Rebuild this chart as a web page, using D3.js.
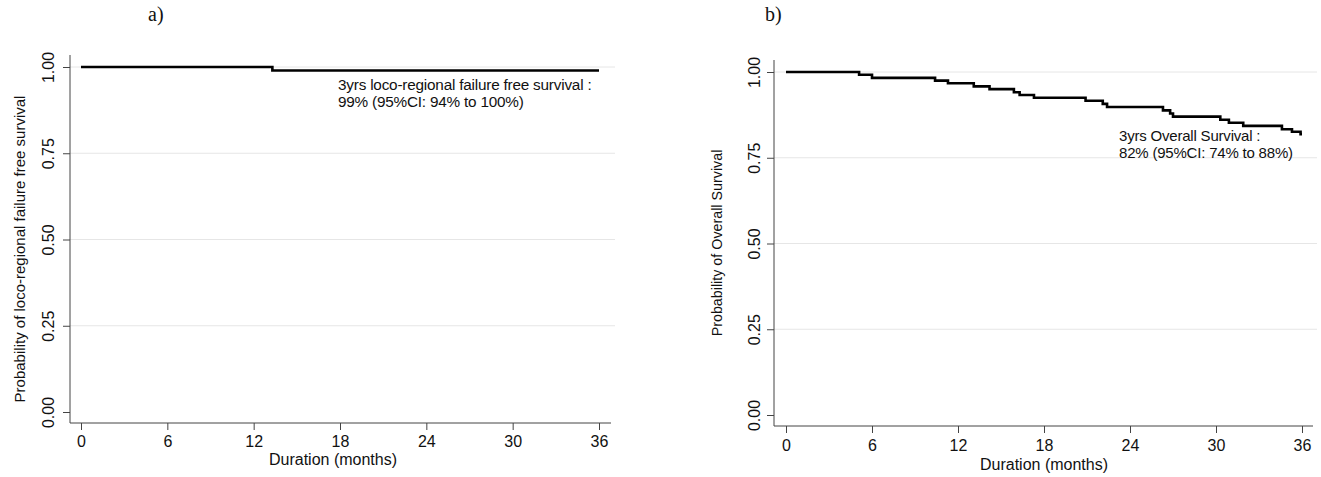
<!DOCTYPE html>
<html>
<head>
<meta charset="utf-8">
<script src="https://cdn.jsdelivr.net/npm/d3@7"></script>
<style>
  html, body { margin: 0; padding: 0; background: #fff; }
  svg { display: block; }
  text { font-family: "Liberation Sans", Arial, sans-serif; fill: #111; }
</style>
</head>
<body>
<svg id="chart" width="1321" height="477"></svg>
<script>
// ---------- data ----------
const xTicks = [0, 6, 12, 18, 24, 30, 36];
const yTicks = [0, 0.25, 0.5, 0.75, 1];
const yTickLabels = ["0.00", "0.25", "0.50", "0.75", "1.00"];
const xMax = 36;

// a) loco-regional failure free survival (Kaplan-Meier steps)
const lrTimes = [0, 13.3];
const lrSurv  = [1.000, 0.990];

// b) overall survival (Kaplan-Meier steps)
const osTimes = [0, 5.1, 6.0, 10.4, 11.3, 13.1, 14.2, 15.9, 16.3, 17.3, 20.9, 22.1, 22.4,
                 26.3, 26.8, 27.0, 30.3, 30.9, 31.9, 34.6, 35.3, 35.9];
const osSurv  = [1.000, 0.992, 0.983, 0.975, 0.967, 0.958, 0.950, 0.941, 0.933, 0.925, 0.916, 0.907, 0.898,
                 0.888, 0.879, 0.870, 0.861, 0.852, 0.843, 0.833, 0.826, 0.819];

const panels = [
  {
    tag: "a)", tagX: 148, tagY: 21,
    x0: 81, x1: 599, y0: 412, y1: 67,
    axX: 70, axTop: 55, axBottom: 423, axRight: 611,
    times: lrTimes, surv: lrSurv,
    yTitle: "Probability of loco-regional failure free survival", yTitleX: 25, yTitleY: 249, yTitleSize: 15,
    yLabX: 54, xLabY: 447, xTitleY: 465, xTitleX: 333,
    note: ["3yrs loco-regional failure free survival :", "99% (95%CI: 94% to 100%)"],
    noteX: 338, noteY: 90, noteDy: 17, noteSize: 15.3,
    fs: 16
  },
  {
    tag: "b)", tagX: 765, tagY: 21,
    x0: 786, x1: 1302, y0: 415, y1: 72,
    axX: 774, axTop: 60, axBottom: 426, axRight: 1313,
    times: osTimes, surv: osSurv,
    yTitle: "Probability of Overall Survival", yTitleX: 722, yTitleY: 243, yTitleSize: 14.3,
    yLabX: 760, xLabY: 451, xTitleY: 470, xTitleX: 1044,
    note: ["3yrs Overall Survival :", "82% (95%CI: 74% to 88%)"],
    noteX: 1119, noteY: 141, noteDy: 17, noteSize: 15,
    fs: 16
  }
];

const svg = d3.select("#chart");

panels.forEach(p => {
  const x = d3.scaleLinear().domain([0, xMax]).range([p.x0, p.x1]);
  const y = d3.scaleLinear().domain([0, 1]).range([p.y0, p.y1]);
  const g = svg.append("g");

  // gridlines
  g.append("g").selectAll("line")
    .data(yTicks.filter(v => v > 0))
    .join("line")
    .attr("x1", p.axX).attr("x2", p.axRight + 4)
    .attr("y1", d => y(d)).attr("y2", d => y(d))
    .attr("stroke", "#e6e6e6").attr("stroke-width", 1);

  // y axis
  const yAxis = d3.axisLeft(y).tickValues(yTicks)
    .tickFormat((d, i) => yTickLabels[i]).tickSize(7).tickSizeOuter(0);
  const yg = g.append("g").attr("transform", `translate(${p.axX},0)`).call(yAxis);
  yg.attr("font-size", null).attr("font-family", null);
  yg.select(".domain").attr("d", `M0,${p.axTop}V${p.axBottom}`).attr("stroke", "#444");
  yg.selectAll(".tick line").attr("stroke", "#444");
  yg.selectAll(".tick text")
    .attr("x", null).attr("dy", null)
    .attr("transform", `translate(${p.yLabX - p.axX},0) rotate(-90)`)
    .attr("text-anchor", "middle")
    .style("font-size", p.fs + "px")
    .attr("fill", "#111");

  // x axis
  const xAxis = d3.axisBottom(x).tickValues(xTicks).tickSize(7).tickSizeOuter(0);
  const xg = g.append("g").attr("transform", `translate(0,${p.axBottom})`).call(xAxis);
  xg.attr("font-size", null).attr("font-family", null);
  xg.select(".domain").attr("d", `M${p.axX},0H${p.axRight}`).attr("stroke", "#444");
  xg.selectAll(".tick line").attr("stroke", "#444");
  xg.selectAll(".tick text")
    .attr("y", p.xLabY - p.axBottom).attr("dy", null)
    .style("font-size", p.fs + "px")
    .attr("fill", "#111");

  // KM step line
  const pts = p.times.map((t, i) => [t, p.surv[i]]);
  pts.push([xMax, p.surv[p.surv.length - 1]]);
  const line = d3.line().x(d => x(d[0])).y(d => y(d[1])).curve(d3.curveStepAfter);
  g.append("path").datum(pts)
    .attr("d", line)
    .attr("fill", "none").attr("stroke", "#000")
    .attr("stroke-width", 2.6).attr("stroke-linejoin", "miter");

  // titles
  g.append("text")
    .attr("x", p.xTitleX).attr("y", p.xTitleY)
    .attr("text-anchor", "middle")
    .style("font-size", "16px")
    .text("Duration (months)");

  g.append("text")
    .attr("transform", `translate(${p.yTitleX},${p.yTitleY}) rotate(-90)`)
    .attr("text-anchor", "middle")
    .style("font-size", p.yTitleSize + "px")
    .text(p.yTitle);

  // panel tag
  g.append("text")
    .attr("x", p.tagX).attr("y", p.tagY)
    .style("font-family", "'Liberation Serif', 'Times New Roman', serif")
    .style("font-size", "20px")
    .text(p.tag);

  // annotation
  p.note.forEach((t, i) => {
    g.append("text")
      .attr("x", p.noteX).attr("y", p.noteY + i * p.noteDy)
      .style("font-size", p.noteSize + "px")
      .style("letter-spacing", "-0.2px")
      .text(t);
  });
});
</script>
</body>
</html>
